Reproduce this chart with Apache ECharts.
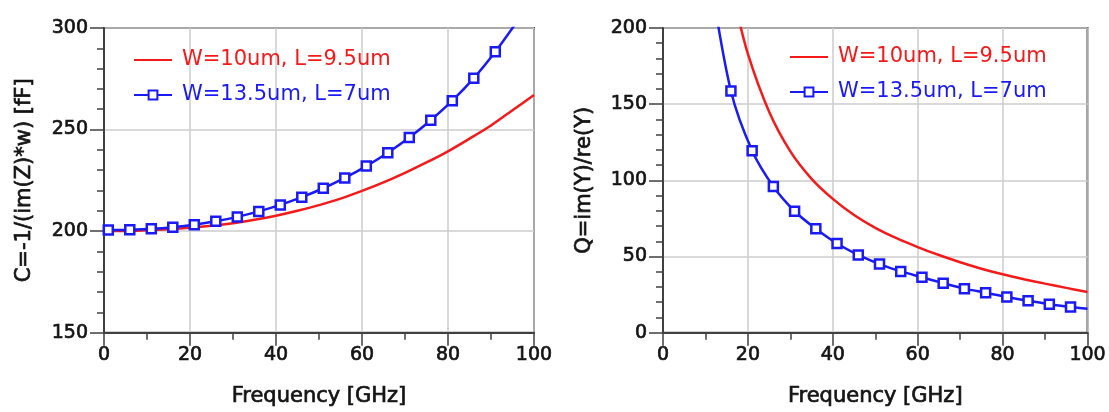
<!DOCTYPE html>
<html><head><meta charset="utf-8">
<script src="https://cdn.jsdelivr.net/npm/echarts@6/dist/echarts.min.js"></script>
<style>html,body{margin:0;padding:0;background:#fff}#c{width:1109px;height:412px}</style>
</head><body><div id="c"></div><script>
// ---- data ----
const seriesNames = ['W=10um, L=9.5um', 'W=13.5um, L=7um'];
const xTicks = [0, 20, 40, 60, 80, 100];
const capTicks = [150, 200, 250, 300];
const qTicks = [0, 50, 100, 150, 200];

// Left chart: C = -1/(im(Z)*w) [fF]
const capRedFreq = [0, 5, 10, 15, 20, 25, 30, 35, 40, 45, 50, 55, 60, 65, 70, 75, 80, 85, 90, 95, 100];
const capRedVal  = [200.0, 200.1, 200.4, 200.9, 201.6, 202.6, 203.9, 205.6, 207.6, 210.0, 212.8, 216.0, 219.8, 224.0, 228.7, 233.8, 239.3, 245.5, 252.0, 259.5, 267.0];
const capBlueFreq = [1, 6, 11, 16, 21, 26, 31, 36, 41, 46, 51, 56, 61, 66, 71, 76, 81, 86, 91, 96];
const capBlueVal  = [200.5, 200.7, 201.1, 201.9, 203.1, 204.8, 207.0, 209.7, 212.9, 216.7, 221.1, 226.2, 232.0, 238.6, 246.1, 254.6, 264.2, 275.3, 288.3, 303.0];

// Right chart: Q = im(Y)/re(Y)
const qRedFreq = [17, 20, 25, 30, 35, 40, 45, 50, 55, 60, 65, 70, 75, 80, 85, 90, 95, 100];
const qRedVal  = [216, 183, 145, 119, 101, 87.8, 77.2, 68.8, 62.0, 56.2, 51.0, 46.2, 42.0, 38.3, 35.1, 32.2, 29.4, 26.7];
const qBlueFreq = [11, 16, 21, 26, 31, 36, 41, 46, 51, 56, 61, 66, 71, 76, 81, 86, 91, 96, 100];
const qBlueVal  = [236, 158.6, 119.4, 95.9, 79.7, 68.2, 58.5, 51.0, 45.0, 40.2, 36.4, 32.5, 28.9, 26.2, 23.4, 20.9, 18.7, 16.9, 15.7];
const qBlueMarkerless = [100]; // x positions drawn without a marker

// ---- style ----
const RED = '#f51a1a', BLUE = '#1a1af5';
const FONT = 'DejaVu Sans';
const AXIS_C = '#404040', GRID_C = '#cccccc', TXT = '#141414';

function zip(xs, ys, noMarkX) {
  return xs.map((x, i) => (noMarkX && noMarkX.indexOf(x) >= 0) ? { value: [x, ys[i]], symbol: 'none' } : [x, ys[i]]);
}
const heavy = { textBorderColor: TXT, textBorderWidth: 0.7 };

function xAxisCfg(gi) {
  return {
    type: 'value', gridIndex: gi, min: xTicks[0], max: xTicks[xTicks.length - 1], interval: xTicks[1] - xTicks[0],
    name: 'Frequency [GHz]', nameLocation: 'middle', nameGap: 53,
    nameTextStyle: Object.assign({ fontFamily: FONT, fontSize: 21, color: TXT }, heavy),
    axisLine: { lineStyle: { color: AXIS_C, width: 2 } },
    axisTick: { show: true, inside: false, length: 13, lineStyle: { color: AXIS_C, width: 1.5 } },
    minorTick: { show: true, splitNumber: 2, length: 7, lineStyle: { color: AXIS_C, width: 1.5 } },
    splitLine: { show: true, lineStyle: { color: GRID_C, width: 1.5 } },
    axisLabel: Object.assign({ fontFamily: FONT, fontSize: 19, color: TXT, margin: 13 }, heavy)
  };
}
function yAxisCfg(gi, ticks, name, gap) {
  return {
    type: 'value', gridIndex: gi, min: ticks[0], max: ticks[ticks.length - 1], interval: ticks[1] - ticks[0],
    name: name, nameLocation: 'middle', nameGap: gap,
    nameTextStyle: Object.assign({ fontFamily: FONT, fontSize: 21, color: TXT }, heavy),
    axisLine: { show: true, lineStyle: { color: AXIS_C, width: 2 } },
    axisTick: { show: true, inside: false, length: 14, lineStyle: { color: AXIS_C, width: 1.5 } },
    minorTick: { show: true, splitNumber: 5, length: 7, lineStyle: { color: AXIS_C, width: 1.5 } },
    splitLine: { show: true, lineStyle: { color: GRID_C, width: 1.5 } },
    axisLabel: Object.assign({ fontFamily: FONT, fontSize: 19, color: TXT, margin: 16 }, heavy)
  };
}
function legendCfg(left, top) {
  return {
    left: left, top: top, orient: 'vertical', itemWidth: 38, itemHeight: 11, itemGap: 11, padding: 0,
    selectedMode: false,
    textStyle: { fontFamily: FONT, fontSize: 21, lineHeight: 24, padding: [0, 0, 0, 5] },
    data: [
      { name: seriesNames[0], textStyle: { color: RED }, itemStyle: { opacity: 0 } },
      { name: seriesNames[1], textStyle: { color: BLUE } }
    ]
  };
}
function redSeries(xi, data) {
  return { name: seriesNames[0], type: 'line', xAxisIndex: xi, yAxisIndex: xi, data: data,
    smooth: 0.3, symbol: 'none', color: RED, lineStyle: { color: RED, width: 2.5 }, clip: true, z: 3 };
}
function blueSeries(xi, data) {
  return { name: seriesNames[1], type: 'line', xAxisIndex: xi, yAxisIndex: xi, data: data,
    smooth: 0.3, symbol: 'rect', symbolSize: 9, showAllSymbol: true, color: BLUE,
    itemStyle: { color: '#ffffff', borderColor: BLUE, borderWidth: 2.5 },
    lineStyle: { color: BLUE, width: 2.5 }, clip: true, z: 4 };
}

const chart = echarts.init(document.getElementById('c'), null, { renderer: 'canvas' });
chart.setOption({
  backgroundColor: '#ffffff',
  animation: false,
  grid: [
    { left: 104, right: 575, top: 28, bottom: 79, show: true, borderColor: AXIS_C, borderWidth: 2, backgroundColor: 'transparent' },
    { left: 663, right: 20, top: 28, bottom: 79, show: true, borderColor: AXIS_C, borderWidth: 2, backgroundColor: 'transparent' }
  ],
  xAxis: [xAxisCfg(0), xAxisCfg(1)],
  yAxis: [
    yAxisCfg(0, capTicks, 'C=-1/(im(Z)*w) [fF]', 69),
    yAxisCfg(1, qTicks, 'Q=im(Y)/re(Y)', 68)
  ],
  legend: [legendCfg(133, 48), legendCfg(789, 45)],
  series: [
    redSeries(0, zip(capRedFreq, capRedVal)),
    blueSeries(0, zip(capBlueFreq, capBlueVal)),
    redSeries(1, zip(qRedFreq, qRedVal)),
    blueSeries(1, zip(qBlueFreq, qBlueVal, qBlueMarkerless))
  ]
});
</script></body></html>
